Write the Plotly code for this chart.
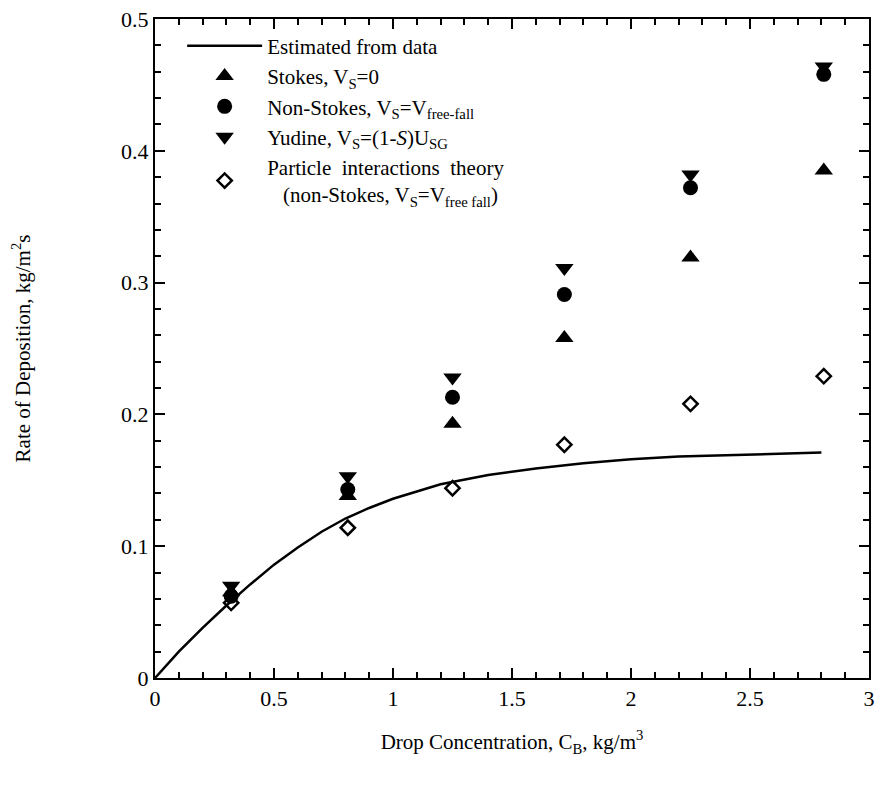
import plotly.graph_objects as go

# Data
conc = [0.32, 0.81, 1.25, 1.72, 2.25, 2.81]
stokes = [0.065, 0.138, 0.193, 0.258, 0.319, 0.385]
non_stokes = [0.062, 0.143, 0.213, 0.291, 0.372, 0.458]
yudine = [0.070, 0.153, 0.228, 0.311, 0.382, 0.464]
particle = [0.057, 0.114, 0.144, 0.177, 0.208, 0.229]

curve_x = [0, 0.05, 0.1, 0.2, 0.3, 0.4, 0.5, 0.6, 0.7, 0.8, 0.9, 1.0, 1.2,
           1.4, 1.6, 1.8, 2.0, 2.2, 2.4, 2.6, 2.8]
curve_y = [0, 0.010, 0.020, 0.038, 0.055, 0.071, 0.086, 0.099, 0.111, 0.121,
           0.129, 0.136, 0.147, 0.154, 0.159, 0.163, 0.166, 0.168, 0.169, 0.170, 0.171]

x_ticks = [0, 0.5, 1, 1.5, 2, 2.5, 3]
x_ticklabels = ["0", "0.5", "1", "1.5", "2", "2.5", "3"]
y_ticks = [0, 0.1, 0.2, 0.3, 0.4, 0.5]
y_ticklabels = ["0", "0.1", "0.2", "0.3", "0.4", "0.5"]

FONT = "Liberation Serif"

fig = go.Figure()
fig.add_trace(go.Scatter(x=curve_x, y=curve_y, mode="lines",
                         line=dict(color="black", width=2.5),
                         name="Estimated from data"))
fig.add_trace(go.Scatter(x=conc, y=stokes, mode="markers",
                         marker=dict(symbol="triangle-up", size=16, color="black"),
                         name="Stokes, V<sub>S</sub>=0"))
fig.add_trace(go.Scatter(x=conc, y=non_stokes, mode="markers",
                         marker=dict(symbol="circle", size=15, color="black"),
                         name="Non-Stokes, V<sub>S</sub>=V<sub>free-fall</sub>"))
fig.add_trace(go.Scatter(x=conc, y=yudine, mode="markers",
                         marker=dict(symbol="triangle-down", size=16, color="black"),
                         name="Yudine, V<sub>S</sub>=(1-<i>S</i>)U<sub>SG</sub>"))
fig.add_trace(go.Scatter(x=conc, y=particle, mode="markers",
                         marker=dict(symbol="diamond-open", size=11, color="black",
                                     line=dict(width=2.5, color="black")),
                         name="Particle  interactions  theory<br>   (non-Stokes, V<sub>S</sub>=V<sub>free fall</sub>)"))

axis_common = dict(
    showline=True, linecolor="black", linewidth=2, mirror="allticks",
    ticks="inside", ticklen=10, tickwidth=2, tickcolor="black",
    showgrid=False, zeroline=False, automargin=False,
    tickfont=dict(family=FONT, size=22, color="black"),
)

fig.update_xaxes(range=[0, 3], tickvals=x_ticks, ticktext=x_ticklabels,
                 minor=dict(dtick=0.1, ticks="inside", ticklen=6, tickwidth=2, tickcolor="black"),
                 title=dict(text="Drop Concentration, C<sub>B</sub>, kg/m<sup>3</sup>",
                            font=dict(family=FONT, size=21, color="black"), standoff=24),
                 **axis_common)
fig.update_yaxes(range=[0, 0.5], tickvals=y_ticks, ticktext=y_ticklabels,
                 minor=dict(dtick=0.02, ticks="inside", ticklen=6, tickwidth=2, tickcolor="black"),
                 title=dict(text="Rate of Deposition, kg/m<sup>2</sup>s",
                            font=dict(family=FONT, size=21, color="black"), standoff=85),
                 **axis_common)

fig.update_layout(
    width=877, height=788,
    margin=dict(l=155, r=8, t=19, b=110),
    plot_bgcolor="white", paper_bgcolor="white",
    font=dict(family=FONT, color="black"),
    showlegend=True,
    legend=dict(x=0.038, y=0.99, xanchor="left", yanchor="top",
                bgcolor="rgba(0,0,0,0)", itemwidth=75,
                font=dict(family=FONT, size=21, color="black"),
                tracegroupgap=0),
)

fig.write_html("out.html",
               config={"displayModeBar": False},
               post_script="document.body.style.margin='0';document.body.style.overflow='hidden';")
